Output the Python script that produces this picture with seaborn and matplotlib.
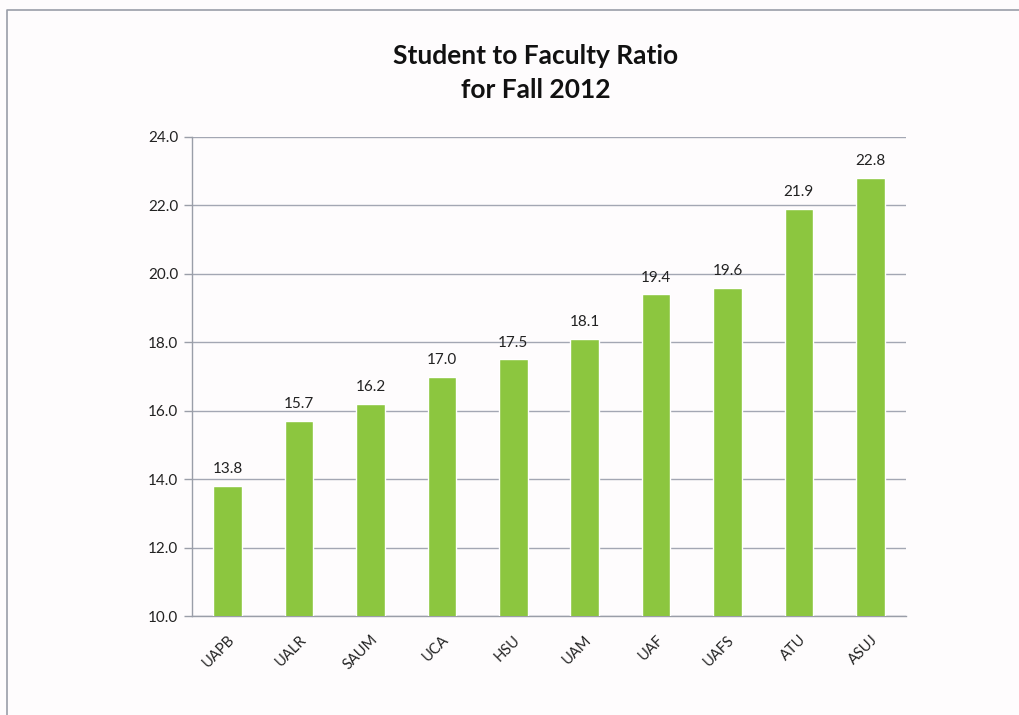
import matplotlib
matplotlib.use("Agg")
import matplotlib.pyplot as plt
from matplotlib.lines import Line2D
import seaborn as sns
import pandas as pd
import numpy as np

institutions = ["UAPB", "UALR", "SAUM", "UCA", "HSU", "UAM", "UAF", "UAFS", "ATU", "ASUJ"]
ratios = [13.8, 15.7, 16.2, 17.0, 17.5, 18.1, 19.4, 19.6, 21.9, 22.8]
y_ticks = [10.0, 12.0, 14.0, 16.0, 18.0, 20.0, 22.0, 24.0]
title_text = "Student to Faculty Ratio\nfor Fall 2012"

sns.set_style("white")
plt.rcParams["font.family"] = ["Lato", "DejaVu Sans"]

df = pd.DataFrame({"inst": institutions, "ratio": ratios})

fig = plt.figure(figsize=(10.2, 7.15), dpi=100, facecolor="#fefcfd")
ax = fig.add_axes([192/1020, 1-616/715, (906-192)/1020, (616-137)/715])
ax.set_facecolor("#fefcfd")

sns.barplot(data=df, x="inst", y="ratio", color="#8cc63f", saturation=1,
            width=0.4, ax=ax, zorder=3)

ax.set_ylim(y_ticks[0], y_ticks[-1])
ax.set_xlim(-0.5, len(institutions) - 0.5)
ax.set_yticks(y_ticks)
ax.set_yticklabels([f"{v:.1f}" for v in y_ticks], fontsize=11, color="#222222")
ax.yaxis.grid(True, color="#a3a7b3", linewidth=1, zorder=0)
ax.set_axisbelow(True)

ax.set_xticks(range(len(institutions)))
ax.set_xticklabels(institutions, rotation=45, ha="right", rotation_mode="anchor",
                   fontsize=10.5, color="#222222")
ax.set_xticks(np.arange(-0.5, len(institutions), 1.0), minor=True)
ax.tick_params(axis="x", which="major", length=0, pad=12)
ax.tick_params(axis="x", which="minor", length=6, color="#9a9ea8", width=1, direction="out")
ax.tick_params(axis="y", length=6, color="#9a9ea8", width=1, direction="out", left=True, pad=4)

for s in ["top", "right"]:
    ax.spines[s].set_visible(False)
for s in ["left", "bottom"]:
    ax.spines[s].set_color("#9a9ea8")
    ax.spines[s].set_linewidth(1)

ax.set_xlabel("")
ax.set_ylabel("")

for i, v in enumerate(ratios):
    ax.annotate(f"{v:.1f}", (i, v), xytext=(0, 7), textcoords="offset points",
                ha="center", va="bottom", fontsize=11, color="#222222")

fig.text(536/1020, 1-73/715, title_text, ha="center", va="center",
         fontsize=19, fontweight="bold", color="#111111", linespacing=1.45)

# outer chart border
fig.add_artist(Line2D([7/1020, 7/1020, 1.0], [0.0, 1-10/715, 1-10/715],
                      transform=fig.transFigure, color="#9a9ea8", linewidth=1.2))

fig.savefig("out.png", dpi=100, facecolor=fig.get_facecolor())
